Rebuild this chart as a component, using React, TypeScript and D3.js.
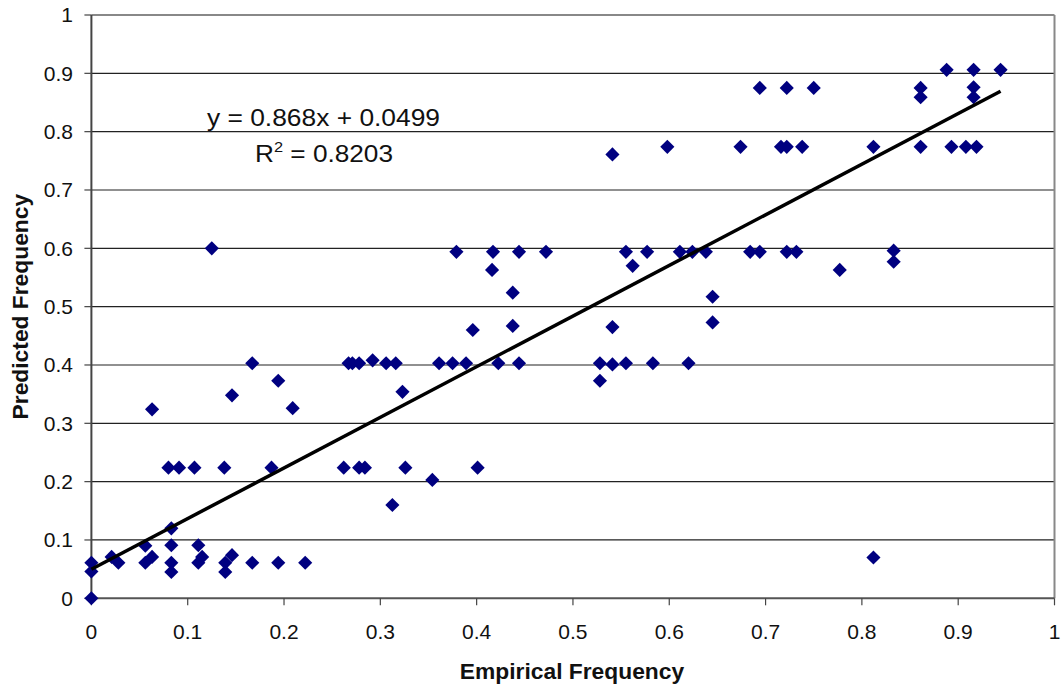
import React from "react";
import * as d3 from "d3";

const empirical = [
  0, 0, 0, 0.021, 0.028, 0.056, 0.056, 0.063, 0.063, 0.083,
  0.083, 0.083, 0.083, 0.080, 0.091, 0.107, 0.111, 0.115, 0.111, 0.138,
  0.139, 0.139, 0.146, 0.146, 0.167, 0.167, 0.187, 0.194, 0.194, 0.209,
  0.222, 0.125, 0.262, 0.278, 0.284, 0.326, 0.354, 0.3125, 0.401, 0.267,
  0.271, 0.278, 0.292, 0.306, 0.316, 0.323, 0.361, 0.375, 0.389, 0.4225,
  0.444, 0.379, 0.417, 0.444, 0.472, 0.416, 0.4375, 0.4375, 0.396, 0.541,
  0.541, 0.555, 0.562, 0.577, 0.598, 0.611, 0.624, 0.638, 0.645, 0.645,
  0.674, 0.684, 0.694, 0.694, 0.722, 0.716, 0.722, 0.738, 0.722, 0.732,
  0.750, 0.528, 0.541, 0.555, 0.583, 0.620, 0.528, 0.812, 0.777, 0.833,
  0.833, 0.861, 0.861, 0.861, 0.888, 0.916, 0.916, 0.916, 0.944, 0.893,
  0.908, 0.919, 0.812,
];
const predicted = [
  0, 0.061, 0.046, 0.071, 0.061, 0.090, 0.061, 0.071, 0.324, 0.120,
  0.091, 0.061, 0.045, 0.224, 0.224, 0.224, 0.091, 0.071, 0.061, 0.224,
  0.061, 0.045, 0.074, 0.348, 0.403, 0.061, 0.224, 0.373, 0.061, 0.326,
  0.061, 0.600, 0.224, 0.224, 0.224, 0.224, 0.203, 0.160, 0.224, 0.403,
  0.403, 0.403, 0.408, 0.403, 0.403, 0.354, 0.403, 0.403, 0.403, 0.403,
  0.403, 0.594, 0.594, 0.594, 0.594, 0.563, 0.524, 0.467, 0.460, 0.465,
  0.761, 0.594, 0.570, 0.594, 0.774, 0.594, 0.594, 0.594, 0.517, 0.473,
  0.774, 0.594, 0.594, 0.875, 0.875, 0.774, 0.774, 0.774, 0.594, 0.594,
  0.875, 0.403, 0.401, 0.403, 0.403, 0.403, 0.373, 0.774, 0.563, 0.596,
  0.577, 0.875, 0.859, 0.774, 0.906, 0.906, 0.876, 0.859, 0.906, 0.774,
  0.774, 0.774, 0.070,
];
const tickValues = [0, 0.1, 0.2, 0.3, 0.4, 0.5, 0.6, 0.7, 0.8, 0.9, 1];
const slope = 0.868;
const intercept = 0.0499;
const equationLabel = "y = 0.868x + 0.0499";
const r2Label = "0.8203";

const W = 1061;
const H = 689;
const left = 91.4, right = 1054.5, top = 15, bottom = 598.3;
const font = "'Liberation Sans', Arial, sans-serif";

export default function App() {
  const x = d3.scaleLinear().domain([0, 1]).range([left, right]);
  const y = d3.scaleLinear().domain([0, 1]).range([bottom, top]);

  const diamond = d3.symbol(d3.symbolSquare, 100)();
  const xMax = d3.max(empirical) as number;
  const trend = d3.line<number>()
    .x((d) => x(d))
    .y((d) => y(slope * d + intercept));

  const points = empirical.map((e, i) => ({ e, p: predicted[i] }));

  return (
    <svg width={W} height={H} style={{ position: "absolute", left: 0, top: 0, background: "#fff" }}>
      {/* gridlines */}
      {tickValues.slice(1, -1).map((t) => (
        <line key={"g" + t} x1={left} x2={right} y1={y(t)} y2={y(t)} stroke="#222" strokeWidth={1.2} />
      ))}
      {/* plot frame */}
      <line x1={left} x2={right} y1={top} y2={top} stroke="#888" strokeWidth={2} />
      <line x1={right} x2={right} y1={top} y2={bottom} stroke="#888" strokeWidth={2} />

      {/* axes */}
      <line x1={left} x2={right} y1={bottom} y2={bottom} stroke="#555" strokeWidth={2} />
      <line x1={left} x2={left} y1={top} y2={bottom} stroke="#444" strokeWidth={2} />
      {tickValues.map((t) => (
        <g key={"yt" + t}>
          <line x1={left - 7} x2={left} y1={y(t)} y2={y(t)} stroke="#444" strokeWidth={1.2} />
          <text x={73} y={y(t)} dy="0.35em" textAnchor="end" fontFamily={font} fontSize={21} fill="#111">
            {d3.format("")(t)}
          </text>
        </g>
      ))}
      {tickValues.map((t) => (
        <g key={"xt" + t}>
          <line x1={x(t)} x2={x(t)} y1={bottom} y2={bottom + 7} stroke="#444" strokeWidth={1.2} />
          <text x={x(t)} y={639} textAnchor="middle" fontFamily={font} fontSize={21} fill="#111">
            {d3.format("")(t)}
          </text>
        </g>
      ))}

      {/* points */}
      {points.map((d, i) => (
        <path
          key={i}
          d={diamond}
          transform={`translate(${x(d.e)},${y(d.p)}) rotate(45)`}
          fill="#000080"
        />
      ))}

      {/* trend line */}
      <path d={trend([0, xMax]) || ""} fill="none" stroke="#000" strokeWidth={3.5} />

      {/* equation */}
      <text x={207} y={125.5} fontFamily={font} fontSize={24} fill="#111"
        textLength={233} lengthAdjust="spacingAndGlyphs">{equationLabel}</text>
      <text x={255} y={162} fontFamily={font} fontSize={24} fill="#111"
        textLength={138} lengthAdjust="spacingAndGlyphs">
        R<tspan dy={-10} fontSize={15}>2</tspan><tspan dy={10}>{" = " + r2Label}</tspan>
      </text>

      {/* axis titles */}
      <text x={572} y={679} textAnchor="middle" fontFamily={font} fontSize={22.8} fontWeight="bold" fill="#111">
        Empirical Frequency
      </text>
      <text
        transform={`translate(28,${(top + bottom) / 2}) rotate(-90)`}
        textAnchor="middle"
        fontFamily={font}
        fontSize={22.8}
        fontWeight="bold"
        fill="#111"
      >
        Predicted Frequency
      </text>
    </svg>
  );
}
